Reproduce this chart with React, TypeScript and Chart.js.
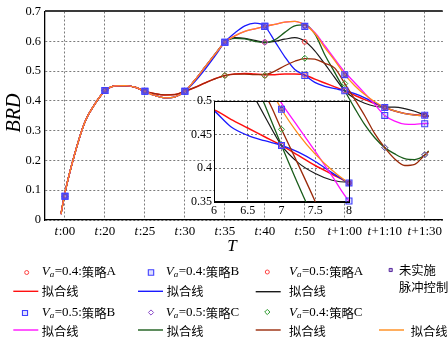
import React, { useEffect, useRef } from 'react';
import { Chart, registerables } from 'chart.js';

Chart.register(...registerables);

// ---------------- data ----------------
const categories = ['t:00', 't:20', 't:25', 't:30', 't:35', 't:40', 't:50', 't+1:00', 't+1:10', 't+1:30'];
const yTickValues = [0, 0.1, 0.2, 0.3, 0.4, 0.5, 0.6, 0.7];
const insetXTicks = [6, 6.5, 7, 7.5, 8];
const insetYTicks = [0.35, 0.4, 0.45, 0.5];

// measured points at the categories
const markVa04A = [0.08, 0.435, 0.432, 0.432, 0.485, 0.485, 0.487, 0.434, 0.378, 0.352];
const markVa04B = [0.08, 0.435, 0.432, 0.432, 0.597, 0.65, 0.485, 0.434, 0.378, 0.352];
const markVa05A = [0.08, 0.435, 0.432, 0.432, 0.597, 0.597, 0.598, 0.434, 0.378, 0.352];
const markNoCtrl = [0.08, 0.435, 0.432, 0.432, 0.597, 0.65, 0.65, 0.488, 0.378, 0.352];
const markVa05B = [0.08, 0.435, 0.432, 0.432, 0.597, 0.65, 0.65, 0.488, 0.351, 0.323];
const markVa05C = [0.08, 0.435, 0.432, 0.432, 0.597, 0.597, 0.652, 0.434, 0.243, 0.219];
const markVa04C = [0.08, 0.435, 0.432, 0.432, 0.485, 0.485, 0.543, 0.458, 0.243, 0.219];

// fitted curves at these category positions
const fitX = [-0.1, 0, 0.25, 0.5, 0.75, 1, 1.25, 1.5, 1.75, 2, 2.25, 2.5, 2.75, 3, 3.25, 3.5, 3.75, 4, 4.25, 4.5, 4.75, 5, 5.25, 5.5, 5.75, 6, 6.25, 6.5, 6.75, 7, 7.25, 7.5, 7.75, 8, 8.25, 8.5, 8.75, 9, 9.1];
const fitVa04A = [0.02, 0.092, 0.225, 0.33, 0.39, 0.433, 0.45, 0.451, 0.446, 0.432,
  0.424, 0.42, 0.421, 0.432, 0.445, 0.46, 0.474, 0.485, 0.49, 0.492, 0.49, 0.488,
  0.488, 0.49, 0.49, 0.487, 0.473, 0.46, 0.447, 0.434, 0.419, 0.404, 0.391, 0.378,
  0.366, 0.358, 0.353, 0.351, 0.35];
const fitVa04C = [0.02, 0.092, 0.225, 0.33, 0.39, 0.433, 0.45, 0.451, 0.446, 0.432,
  0.424, 0.42, 0.421, 0.432, 0.445, 0.46, 0.474, 0.485, 0.49, 0.49, 0.488, 0.488,
  0.5, 0.518, 0.533, 0.542, 0.54, 0.526, 0.51, 0.458, 0.405, 0.35, 0.29, 0.243,
  0.205, 0.183, 0.187, 0.218, 0.23];
const fitVa05C = [0.02, 0.092, 0.225, 0.33, 0.39, 0.433, 0.45, 0.451, 0.446, 0.432,
  0.418, 0.41, 0.413, 0.432, 0.47, 0.513, 0.556, 0.597, 0.61, 0.608, 0.6, 0.595,
  0.605, 0.63, 0.652, 0.655, 0.625, 0.555, 0.495, 0.434, 0.375, 0.32, 0.276, 0.243,
  0.222, 0.206, 0.203, 0.218, 0.232];
const fitVa05A = [0.02, 0.092, 0.225, 0.33, 0.39, 0.433, 0.45, 0.451, 0.446, 0.432,
  0.418, 0.41, 0.413, 0.432, 0.47, 0.513, 0.556, 0.597, 0.612, 0.61, 0.603, 0.597,
  0.6, 0.607, 0.612, 0.6, 0.568, 0.524, 0.478, 0.434, 0.408, 0.392, 0.382, 0.379,
  0.379, 0.374, 0.365, 0.352, 0.347];
const fitVa04B = [0.02, 0.092, 0.225, 0.33, 0.39, 0.433, 0.45, 0.451, 0.446, 0.432,
  0.418, 0.41, 0.413, 0.432, 0.465, 0.505, 0.55, 0.597, 0.628, 0.652, 0.661, 0.65,
  0.6, 0.548, 0.505, 0.486, 0.462, 0.449, 0.441, 0.434, 0.424, 0.41, 0.393, 0.378,
  0.366, 0.357, 0.352, 0.35, 0.35];
const fitNoCtrl = [0.02, 0.092, 0.225, 0.33, 0.39, 0.433, 0.45, 0.451, 0.446, 0.432,
  0.418, 0.41, 0.413, 0.432, 0.47, 0.513, 0.556, 0.597, 0.618, 0.633, 0.642, 0.65,
  0.657, 0.664, 0.667, 0.655, 0.627, 0.579, 0.535, 0.488, 0.451, 0.421, 0.397, 0.378,
  0.366, 0.357, 0.352, 0.35, 0.349];
const fitVa05B = [0.02, 0.092, 0.225, 0.33, 0.39, 0.433, 0.45, 0.451, 0.446, 0.432,
  0.418, 0.41, 0.413, 0.432, 0.47, 0.513, 0.556, 0.597, 0.618, 0.633, 0.642, 0.65,
  0.657, 0.664, 0.667, 0.655, 0.63, 0.585, 0.54, 0.497, 0.461, 0.425, 0.388, 0.351,
  0.332, 0.322, 0.321, 0.324, 0.324];

// ---------------- styles ----------------
const SERIF = '"Liberation Serif", "DejaVu Serif", serif';
const CJK = '"Noto Sans CJK SC", "Noto Sans CJK JP", sans-serif';

const MK = {
  sqBlue: { shape: 'rect', r: 4.2, stroke: '#4040ff', fill: 'rgba(110,110,255,0.22)', bw: 1.1 },
  sqPurple: { shape: 'rect', r: 2.4, stroke: '#5a2ca0', fill: 'rgba(90,44,160,0.4)', bw: 1 },
  dmPurple: { shape: 'rectRot', r: 3, stroke: '#8a4cc8', fill: 'rgba(0,0,0,0)', bw: 1 },
  dmGreen: { shape: 'rectRot', r: 3, stroke: '#2e9a2e', fill: 'rgba(0,0,0,0)', bw: 1 },
  ciRed: { shape: 'circle', r: 2.4, stroke: '#ff4040', fill: 'rgba(0,0,0,0)', bw: 1 },
};

const LC = {
  red: '#ff1010',
  blue: '#1a1aff',
  black: '#1a1a1a',
  magenta: '#ff10ff',
  green: '#1a5c1a',
  brown: '#9a2a0a',
  orange: '#ff8c1a',
};

// markers (top first), then lines
const markerSeries = [
  { data: markVa04B, mk: MK.sqBlue },
  { data: markVa05B, mk: MK.sqBlue },
  { data: markNoCtrl, mk: MK.sqPurple },
  { data: markVa05C, mk: MK.dmPurple },
  { data: markVa04C, mk: MK.dmGreen },
  { data: markVa05A, mk: MK.ciRed },
  { data: markVa04A, mk: MK.ciRed },
];
const lineSeries = [
  { data: fitNoCtrl, color: LC.orange, w: 1.3 },
  { data: fitVa05B, color: LC.magenta, w: 1.3 },
  { data: fitVa04C, color: LC.brown, w: 1.3 },
  { data: fitVa05C, color: LC.green, w: 1.3 },
  { data: fitVa05A, color: LC.black, w: 1.2 },
  { data: fitVa04B, color: LC.blue, w: 1.3 },
  { data: fitVa04A, color: LC.red, w: 1.5 },
];

function buildDatasets(markIdx: number[], markerClip: number) {
  const ds: any[] = [];
  markerSeries.forEach((s) => {
    ds.push({
      type: 'line',
      data: markIdx.map((i) => ({ x: i, y: s.data[i] })),
      showLine: false,
      pointStyle: s.mk.shape,
      pointRadius: s.mk.r,
      pointBorderColor: s.mk.stroke,
      pointBackgroundColor: s.mk.fill,
      pointBorderWidth: s.mk.bw,
      clip: markerClip,
    });
  });
  lineSeries.forEach((s) => {
    ds.push({
      type: 'line',
      data: fitX.map((x, i) => ({ x, y: s.data[i] })),
      borderColor: s.color,
      borderWidth: s.w,
      pointRadius: 0,
      cubicInterpolationMode: 'monotone',
      fill: false,
    });
  });
  return ds;
}

function drawMarker(ctx: CanvasRenderingContext2D, mk: any, x: number, y: number, r?: number) {
  const rr = r ?? mk.r;
  ctx.save();
  ctx.lineWidth = mk.bw;
  ctx.strokeStyle = mk.stroke;
  ctx.fillStyle = mk.fill;
  ctx.beginPath();
  if (mk.shape === 'circle') {
    ctx.arc(x, y, rr, 0, Math.PI * 2);
  } else if (mk.shape === 'rect') {
    const s = rr * Math.SQRT1_2;
    ctx.rect(x - s, y - s, 2 * s, 2 * s);
  } else {
    ctx.moveTo(x, y - rr);
    ctx.lineTo(x + rr, y);
    ctx.lineTo(x, y + rr);
    ctx.lineTo(x - rr, y);
    ctx.closePath();
  }
  ctx.fill();
  ctx.stroke();
  ctx.restore();
}

function drawRuns(ctx: CanvasRenderingContext2D, x: number, y: number, runs: any[]) {
  let cx = x;
  for (const r of runs) {
    ctx.font = r.font;
    ctx.fillText(r.text, cx, y + (r.dy || 0));
    cx += ctx.measureText(r.text).width + (r.gap || 0);
  }
}

const F_LAT = `13px ${SERIF}`;
const F_IT = `italic 13px ${SERIF}`;
const F_SUB = `italic 9px ${SERIF}`;
const F_CJK = `12.3px ${CJK}`;

function vaRuns(va: string, strat: string) {
  return [
    { text: 'V', font: F_IT },
    { text: 'a', font: F_SUB, dy: 3, gap: 0.5 },
    { text: '=' + va + ':', font: F_LAT },
    { text: '策略', font: F_CJK },
    { text: strat, font: F_LAT },
  ];
}

function drawLegend(ctx: CanvasRenderingContext2D) {
  ctx.fillStyle = '#000';
  ctx.textBaseline = 'middle';
  const seg = (x1: number, x2: number, y: number, c: string) => {
    ctx.save();
    ctx.strokeStyle = c;
    ctx.lineWidth = 1.4;
    ctx.beginPath();
    ctx.moveTo(x1, y);
    ctx.lineTo(x2, y);
    ctx.stroke();
    ctx.restore();
  };
  const fitText = (x: number, y: number) => {
    ctx.font = F_CJK;
    ctx.fillText('拟合线', x, y);
  };
  // row 1
  drawMarker(ctx, MK.ciRed, 26.7, 272.5, 2);
  drawRuns(ctx, 41.7, 272, vaRuns('0.4', 'A'));
  drawMarker(ctx, MK.sqBlue, 151, 272.5, 3.8);
  drawRuns(ctx, 165.7, 272, vaRuns('0.4', 'B'));
  drawMarker(ctx, MK.ciRed, 267.3, 272, 2);
  drawRuns(ctx, 289, 272, vaRuns('0.5', 'A'));
  drawMarker(ctx, MK.sqPurple, 390.7, 270, 2.2);
  ctx.font = F_CJK;
  ctx.fillText('未实施', 399, 270.5);
  ctx.fillText('脉冲控制', 399, 287.5);
  // row 2
  seg(13.3, 38.3, 291.3, LC.red);
  fitText(41.7, 291.7);
  seg(138, 163, 291.3, LC.blue);
  fitText(166.7, 291.7);
  seg(255.7, 280.7, 291.7, LC.black);
  fitText(289, 291.7);
  // row 3
  drawMarker(ctx, MK.sqBlue, 25, 313, 3.6);
  drawRuns(ctx, 41.7, 313, vaRuns('0.5', 'B'));
  drawMarker(ctx, MK.dmPurple, 151, 312.5, 2.6);
  drawRuns(ctx, 165.7, 313, vaRuns('0.5', 'C'));
  drawMarker(ctx, MK.dmGreen, 267.3, 312, 2.6);
  drawRuns(ctx, 289, 313, vaRuns('0.4', 'C'));
  // row 4
  seg(13.3, 38.3, 330, LC.magenta);
  fitText(41.7, 331.3);
  seg(138, 163, 330, LC.green);
  fitText(166.7, 331.3);
  seg(255.7, 280.7, 330, LC.brown);
  fitText(289, 331.3);
  seg(379, 404, 330, LC.orange);
  fitText(410.7, 331.3);
}

const mainDecor = {
  id: 'mainDecor',
  afterDraw(chart: any) {
    const { ctx, chartArea: a, scales } = chart;
    ctx.save();
    // top frame
    ctx.strokeStyle = '#3a3a3a';
    ctx.lineWidth = 2;
    ctx.beginPath();
    ctx.moveTo(a.left, a.top - 0.5);
    ctx.lineTo(a.right, a.top - 0.5);
    ctx.stroke();
    // x tick labels with italic t
    ctx.fillStyle = '#000';
    ctx.textBaseline = 'middle';
    categories.forEach((lab, i) => {
      const px = scales.x.getPixelForValue(i);
      const rest = lab.slice(1);
      ctx.font = `italic 13px ${SERIF}`;
      const w1 = ctx.measureText('t').width + 0.5;
      ctx.font = `13px ${SERIF}`;
      const w2 = ctx.measureText(rest).width;
      const sx = px - (w1 + w2) / 2;
      ctx.font = `italic 13px ${SERIF}`;
      ctx.fillText('t', sx, 232);
      ctx.font = `13px ${SERIF}`;
      ctx.fillText(rest, sx + w1, 232);
    });
    // axis titles
    ctx.font = `italic 17px ${SERIF}`;
    ctx.textAlign = 'center';
    ctx.fillText('T', 232, 247);
    ctx.save();
    ctx.translate(15, 113);
    ctx.rotate(-Math.PI / 2);
    ctx.font = `italic 20px ${SERIF}`;
    ctx.fillText('BRD', 0, 0);
    ctx.restore();
    ctx.textAlign = 'left';
    drawLegend(ctx);
    ctx.restore();
  },
};

const insetDecor = {
  id: 'insetDecor',
  beforeDraw(chart: any) {
    const { ctx, chartArea: a } = chart;
    ctx.save();
    ctx.fillStyle = '#fff';
    ctx.fillRect(a.left, a.top, a.right - a.left, a.bottom - a.top);
    ctx.restore();
  },
  afterDraw(chart: any) {
    const { ctx, chartArea: a } = chart;
    ctx.save();
    ctx.strokeStyle = '#000';
    ctx.lineWidth = 1;
    ctx.strokeRect(Math.round(a.left) + 0.5, Math.round(a.top) + 0.5, Math.round(a.right - a.left), Math.round(a.bottom - a.top));
    ctx.restore();
  },
};

const gridStyle = { color: '#5a5a5a', lineWidth: 0.8, drawTicks: false };
const borderStyle = { display: true, color: '#000', width: 1.3, dash: [2, 2] };

export default function App() {
  const mainRef = useRef<HTMLCanvasElement>(null);
  const insetRef = useRef<HTMLCanvasElement>(null);

  useEffect(() => {
    const main = new Chart(mainRef.current as any, {
      type: 'line',
      data: { datasets: buildDatasets(categories.map((_, i) => i), 6) },
      options: {
        responsive: false,
        animation: false,
        devicePixelRatio: 1,
        events: [],
        layout: { padding: { top: 8, left: 0, right: 0, bottom: 0 } },
        plugins: { legend: { display: false }, tooltip: { enabled: false } },
        scales: {
          x: {
            type: 'linear',
            min: -0.5,
            max: 9.45,
            afterBuildTicks: (s: any) => {
              s.ticks = categories.map((_, i) => ({ value: i }));
            },
            ticks: { display: false },
            grid: gridStyle,
            border: borderStyle,
            afterFit: (s: any) => {
              s.height = 123;
            },
          },
          y: {
            type: 'linear',
            min: 0,
            max: 0.7,
            afterBuildTicks: (s: any) => {
              s.ticks = yTickValues.map((v) => ({ value: v }));
            },
            ticks: {
              color: '#000',
              padding: 4,
              font: { family: SERIF, size: 12.5 },
              callback: (v: any) => (v === 0 ? '0' : Number(v).toFixed(1)),
            },
            grid: gridStyle,
            border: borderStyle,
            afterFit: (s: any) => {
              s.width = 45;
            },
          },
        },
      } as any,
      plugins: [mainDecor],
    });

    const inset = new Chart(insetRef.current as any, {
      type: 'line',
      data: { datasets: buildDatasets([7, 8], 8) },
      options: {
        responsive: false,
        animation: false,
        devicePixelRatio: 1,
        events: [],
        layout: { padding: { top: 8, left: 0, right: 6, bottom: 0 } },
        plugins: { legend: { display: false }, tooltip: { enabled: false } },
        scales: {
          x: {
            type: 'linear',
            min: 6,
            max: 8,
            afterBuildTicks: (s: any) => {
              s.ticks = insetXTicks.map((v) => ({ value: v }));
            },
            ticks: {
              color: '#000',
              padding: 2,
              maxRotation: 0,
              autoSkip: false,
              font: { family: SERIF, size: 12 },
              callback: (v: any) => String(v),
            },
            grid: gridStyle,
            border: { display: true, color: '#000', width: 1, dash: [2, 2] },
            afterFit: (s: any) => {
              s.height = 18.3;
            },
          },
          y: {
            type: 'linear',
            min: 0.35,
            max: 0.5,
            afterBuildTicks: (s: any) => {
              s.ticks = insetYTicks.map((v) => ({ value: v }));
            },
            ticks: {
              color: '#000',
              padding: 2,
              font: { family: SERIF, size: 12 },
              callback: (v: any) => String(v),
            },
            grid: gridStyle,
            border: { display: true, color: '#000', width: 1, dash: [2, 2] },
            afterFit: (s: any) => {
              s.width = 34;
            },
          },
        },
      } as any,
      plugins: [insetDecor],
    });

    return () => {
      main.destroy();
      inset.destroy();
    };
  }, []);

  return (
    <div style={{ position: 'fixed', left: 0, top: 0, width: 448, height: 343, background: '#fff', overflow: 'hidden' }}>
      <canvas ref={mainRef} width={448} height={343} style={{ position: 'absolute', left: 0, top: 0, display: 'block' }} />
      <canvas ref={insetRef} width={175} height={128} style={{ position: 'absolute', left: 180, top: 92, display: 'block' }} />
    </div>
  );
}
